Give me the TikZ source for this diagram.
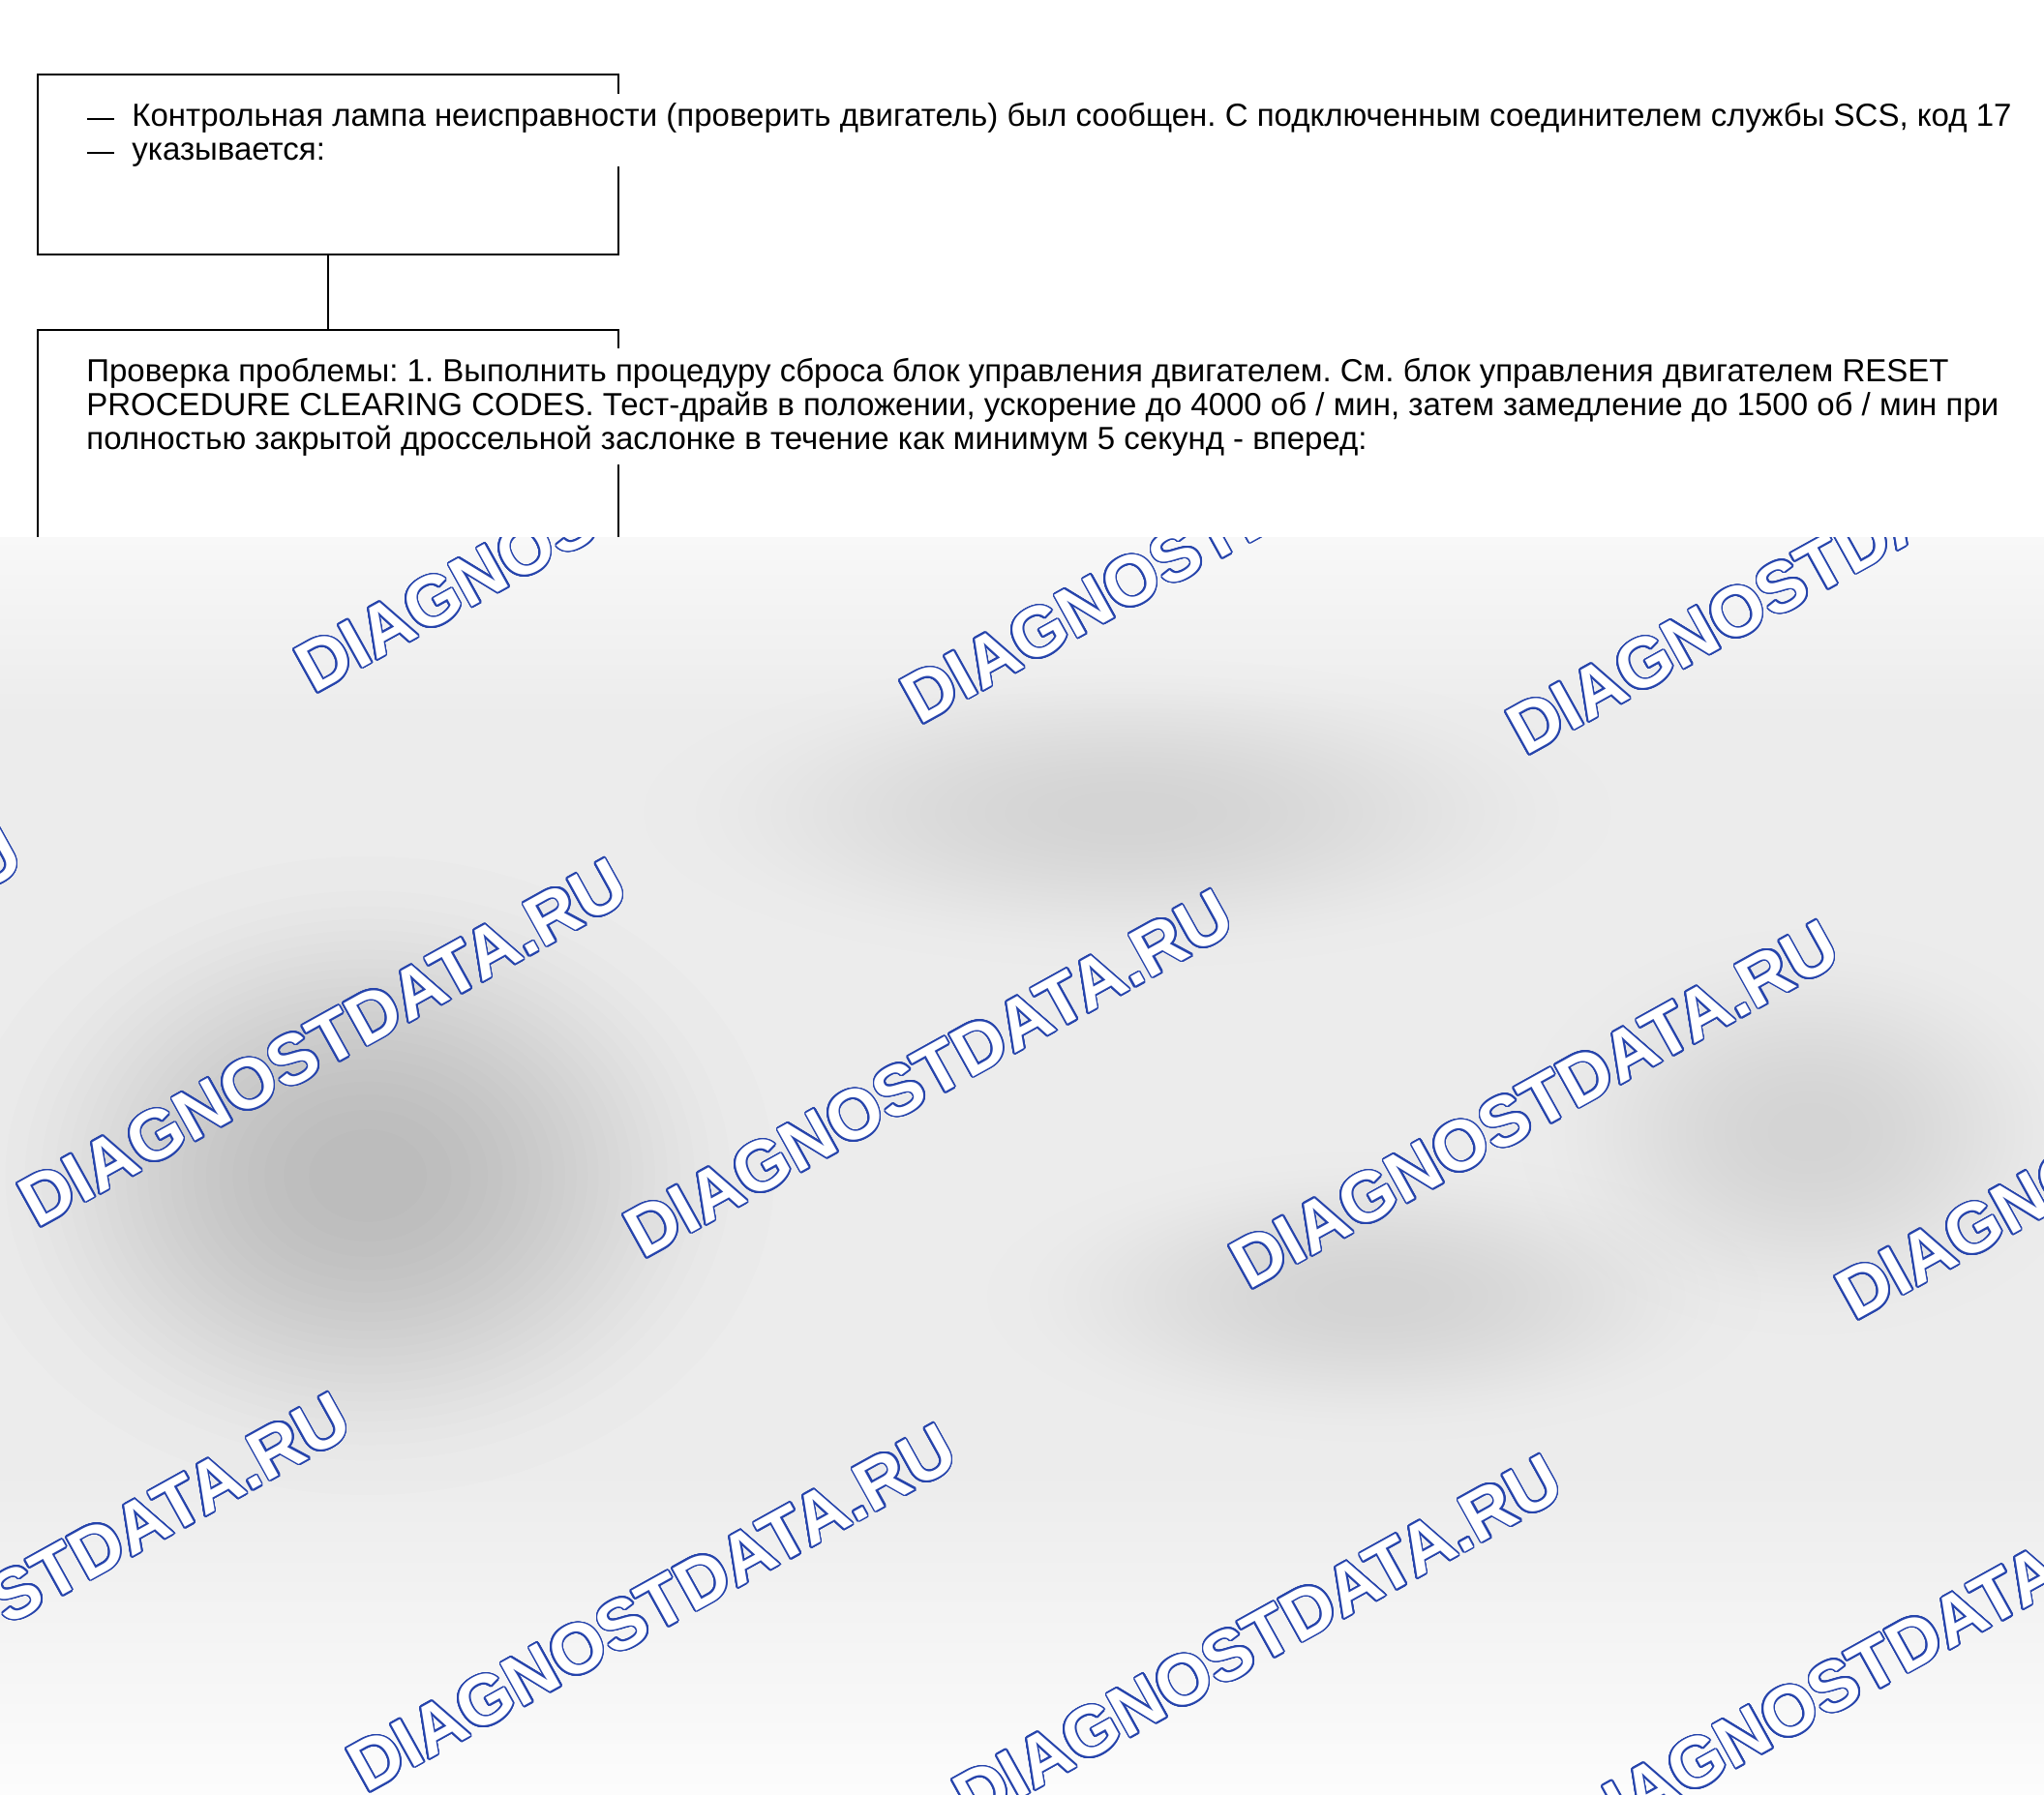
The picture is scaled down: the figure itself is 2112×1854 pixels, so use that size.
\documentclass[tikz,border=0pt]{standalone}
\usepackage{fontspec}
\setmainfont{Liberation Sans}
\newfontfamily\wmfont{Liberation Sans}
\definecolor{wmblue}{RGB}{38,68,172}
\definecolor{bggray}{RGB}{236,236,236}
\definecolor{bglight}{RGB}{248,248,248}
\definecolor{bgwhite}{RGB}{252,252,252}
\newlength\calw
\newsavebox\calbox
\AtBeginDocument{%
  \sbox\calbox{\frenchspacing\fontsize{10pt}{12pt}\selectfont PROCEDURE CLEARING CODES. Тест-драйв в положении, ускорение до 4000 об / мин, затем замедление до 1500 об / мин при}%
  \global\calw=\wd\calbox
  \pgfmathsetmacro\tmpfs{10*988/\calw}%
  \xdef\bodyfs{\tmpfs}%
}
\newcommand\bodyfont{\frenchspacing\fontsize{\bodyfs pt}{17.5pt}\selectfont}
\newcommand\wmtext{DIAGNOSTDATA.RU}
\newcommand\dashmark{\makebox[23pt][l]{\rule[3pt]{14pt}{1.4pt}}}
\tikzset{
  boxstyle/.style={draw=black, line width=0.75pt, minimum width=300pt, anchor=north west, inner sep=0pt},
  textstyle/.style={anchor=north west, inner sep=0pt, fill=white, align=left, text=black, font=\bodyfont},
  wmbase/.style={anchor=base west, inner sep=0pt, rotate=29, font=\wmfont\bfseries\fontsize{36.5pt}{40pt}\selectfont},
  wmline/.style={wmbase, text=wmblue},
  wmfill/.style={wmbase, text=white},
}
% soft grey cloud: centre (px), radii (px), opacity per layer
\newcommand\blob[5]{%
  \foreach \k in {1,...,24}{%
    \pgfmathsetmacro\rf{sqrt(1-sqrt(1-\k/24))}%
    \fill[black, fill opacity=#5] (#1,#2) ellipse [x radius={#3*\rf*0.5pt}, y radius={#4*\rf*0.5pt}];
  }%
}
\begin{document}
\begin{tikzpicture}[x=0.5pt, y=-0.5pt]
\useasboundingbox[fill=white] (0,0) rectangle (2112,1854);

% boxes
\node[boxstyle, minimum height=93pt] (b1) at (38,76) {};
\node[boxstyle, minimum height=210pt] (b2) at (38,340) {};
\draw[line width=0.75pt] (b1.south) -- (b2.north);

\node[textstyle] (t1) at (90,97) {\dashmark Контрольная лампа неисправности (проверить двигатель) был сообщен. С подключенным соединителем службы SCS, код 17\rule{0pt}{16.5pt}\\
\dashmark указывается:\rule[-3.5pt]{0pt}{3.5pt}};

\node[textstyle] (t2) at (89,360) {Проверка проблемы: 1. Выполнить процедуру сброса блок управления двигателем. См. блок управления двигателем RESET\rule{0pt}{17pt}\\
PROCEDURE CLEARING CODES. Тест-драйв в положении, ускорение до 4000 об / мин, затем замедление до 1500 об / мин при\\
полностью закрытой дроссельной заслонке в течение как минимум 5 секунд - вперед:\rule[-8pt]{0pt}{8pt}};

% watermark background
\begin{scope}
\clip (0,555) rectangle (2112,1854);
\fill[bggray] (0,555) rectangle (2112,1854);
\shade[top color=bglight, bottom color=bggray] (0,555) rectangle (2112,740);
\shade[top color=bggray, bottom color=bgwhite] (0,1520) rectangle (2112,1854);
\blob{380}{1215}{420}{330}{0.0068}
\blob{1165}{840}{500}{160}{0.0036}
\blob{1870}{1170}{300}{210}{0.0044}
\blob{1420}{1340}{400}{150}{0.0030}
\blob{330}{930}{360}{180}{0.0017}
\foreach \i in {-2,...,2}{
  \foreach \j in {-1,0,1}{
    \pgfmathsetmacro\wx{664+626*\i-286*\j}
    \pgfmathsetmacro\wy{1302+32*\i+552*\j}
    \foreach \a in {0,15,...,345}{
      \node[wmline, shift={(\a:0.85pt)}] at (\wx,\wy) {\wmtext};
    }
    \node[wmfill] (wm\i\j) at (\wx,\wy) {\wmtext};
  }
}
\end{scope}
\end{tikzpicture}
\end{document}
